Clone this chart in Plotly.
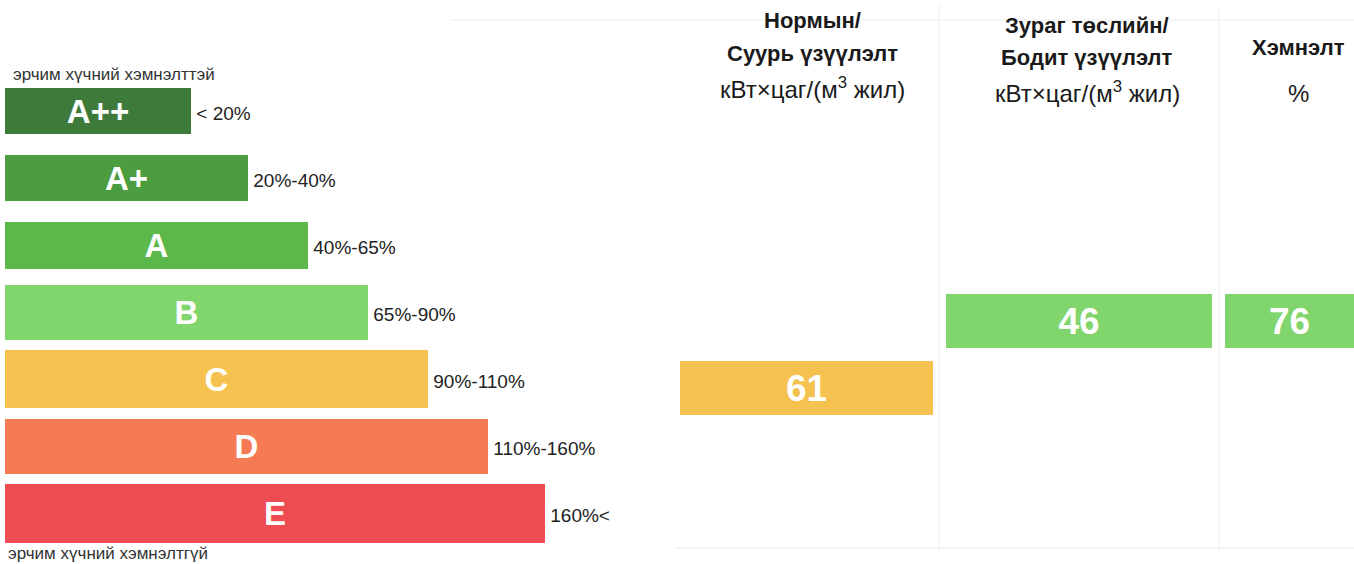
import plotly.graph_objects as go

# ---------------- data ----------------
classes = ["A++", "A+", "A", "B", "C", "D", "E"]
class_ranges = ["< 20%", "20%-40%", "40%-65%", "65%-90%", "90%-110%", "110%-160%", "160%<"]
bar_lengths = [3.1, 4.05, 5.05, 6.05, 7.05, 8.05, 9.0]   # relative label-bar lengths

col_headers = [
    ["Нормын/", "Суурь үзүүлэлт", "кВт×цаг/(м<sup>3</sup> жил)"],
    ["Зураг төслийн/", "Бодит үзүүлэлт", "кВт×цаг/(м<sup>3</sup> жил)"],
    ["Хэмнэлт", "%"],
]
col_values = [61, 46, 76]
col_classes = ["C", "B", "B"]

top_note = "эрчим хүчний хэмнэлттэй"
bottom_note = "эрчим хүчний хэмнэлтгүй"

# ---------------- styles ----------------
W, H = 1354, 564
FONT = "Liberation Sans, Arial, sans-serif"
class_colors = ["#3e7b3a", "#4c9c40", "#5cb84b", "#80d56d", "#f5c24f", "#f57b55", "#ee4b52"]
class_color_map = dict(zip(classes, class_colors))
bar_thickness = [0.69, 0.69, 0.70, 0.82, 0.86, 0.82, 0.88]

def px(x):
    return x / W

def py(y):
    return 1 - y / H

fig = go.Figure()

# left energy class bars
fig.add_trace(go.Bar(
    x=bar_lengths, y=classes, orientation="h", base=0,
    width=bar_thickness,
    marker=dict(color=class_colors, line=dict(width=0)),
    text=classes, textposition="inside", insidetextanchor="middle",
    textfont=dict(family=FONT, size=33, color="white", weight="bold"),
    constraintext="none",
    xaxis="x", yaxis="y", hoverinfo="skip", showlegend=False,
))
# range labels at bar ends (drawn on a slightly lowered copy of the class axis)
fig.add_trace(go.Scatter(
    x=bar_lengths, y=classes, mode="text", text=class_ranges,
    texttemplate=" %{text}",
    textposition="middle right",
    textfont=dict(family=FONT, size=19, color="#222222"),
    xaxis="x", yaxis="y3", hoverinfo="skip", showlegend=False,
))

# right value columns
axes_x = ["x2", "x3", "x4"]
for i, (v, c) in enumerate(zip(col_values, col_classes)):
    fig.add_trace(go.Bar(
        x=[1], y=[c], orientation="h", base=0, width=0.8,
        marker=dict(color=class_color_map[c], line=dict(width=0)),
        text=[str(v)], textposition="inside", insidetextanchor="middle",
        textfont=dict(family=FONT, size=37, color="white", weight="bold"),
        constraintext="none",
        xaxis=axes_x[i], yaxis="y2", hoverinfo="skip", showlegend=False,
    ))

hidden = dict(visible=False, showgrid=False, zeroline=False, fixedrange=True)
px_per_row = 67.08
cat = dict(type="category", categoryorder="array", categoryarray=classes)
fig.update_layout(
    width=W, height=H,
    margin=dict(l=0, r=0, t=0, b=0),
    paper_bgcolor="white", plot_bgcolor="rgba(0,0,0,0)",
    bargap=0,
    xaxis=dict(domain=[0, 1], range=[-5 / 60, (W - 5) / 60], **hidden),
    yaxis=dict(domain=[0, 1], range=[6 + (H - 513.5) / px_per_row, -111 / px_per_row], **cat, **hidden),
    yaxis3=dict(domain=[0, 1], anchor="x", overlaying="y",
                range=[6 + (H - 517.5) / px_per_row, -115 / px_per_row], **cat, **hidden),
    xaxis2=dict(domain=[px(680), px(933)], range=[0, 1], anchor="y2", **hidden),
    xaxis3=dict(domain=[px(946), px(1212)], range=[0, 1], anchor="y2", **hidden),
    xaxis4=dict(domain=[px(1225), 1], range=[0, 1], anchor="y2", **hidden),
    yaxis2=dict(domain=[0, 1], anchor="x2",
                range=[4 + (H - 388) / px_per_row, 4 - 388 / px_per_row], **cat, **hidden),
)

# faint table lines of the scanned sheet
line_col = "#ececec"
shapes = [
    dict(type="line", xref="paper", yref="paper", x0=px(450), x1=1, y0=py(20), y1=py(20)),
    dict(type="line", xref="paper", yref="paper", x0=px(675), x1=1, y0=py(548), y1=py(548)),
    dict(type="line", xref="paper", yref="paper", x0=px(939), x1=px(939), y0=py(5), y1=py(550)),
    dict(type="line", xref="paper", yref="paper", x0=px(1219), x1=px(1219), y0=py(10), y1=py(550)),
]
for s in shapes:
    s["line"] = dict(color=line_col, width=1)
    s["layer"] = "below"
fig.update_layout(shapes=shapes)

ann = []
def add_text(text, x, y, size, bold=False, anchor="center", color="#1a1a1a"):
    ann.append(dict(text=text, x=px(x), y=py(y), xref="paper", yref="paper",
                    xanchor=anchor, yanchor="middle", showarrow=False,
                    font=dict(family=FONT, size=size, color=color,
                              weight="bold" if bold else "normal")))

add_text(top_note, 11, 74, 17, anchor="left", color="#333333")
add_text(bottom_note, 6, 553, 17, anchor="left", color="#333333")

header_pos = [(812, [20, 53, 88]), (1087, [25, 57, 92]), (1298, [47, 94])]
for lines, (cx, ys) in zip(col_headers, header_pos):
    for j, (t, yy) in enumerate(zip(lines, ys)):
        is_unit = j == len(lines) - 1
        add_text(t, cx, yy, 24 if is_unit else 22, bold=not is_unit)

fig.update_layout(annotations=ann)

fig.write_html("out.html", config={"displayModeBar": False},
               post_script="document.body.style.margin='0';")
